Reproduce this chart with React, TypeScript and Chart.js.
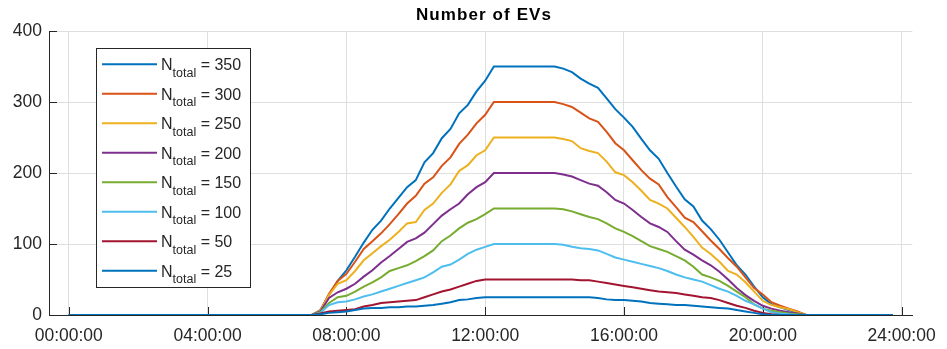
import React, { useEffect, useRef } from 'react';
import { Chart, registerables } from 'chart.js';

Chart.register(...registerables);

// Sampling: 15-minute steps from 00:00 to 23:45 (96 samples), values in EVs
const STEP_HOURS = 0.25;

const N350 = [
  0, 0, 0, 0, 0, 0, 0, 0, 0, 0, 0, 0, 0, 0, 0, 0, 0, 0, 0, 0, 0, 0, 0, 0, 0, 0, 0, 0,
  0, 7, 28, 48, 63, 82, 102, 120, 133, 150, 165, 180, 190, 215, 228, 249, 262, 284, 296, 315, 330, 350,
  350, 350, 350, 350, 350, 350, 350,
  347, 342, 333, 326, 320, 305, 290, 278, 265, 248, 232, 220, 200, 181, 163, 153, 133, 121, 106, 88, 70, 57, 40, 25, 15, 11, 7, 4, 0,
  0, 0, 0, 0, 0, 0, 0, 0, 0, 0,
];
const N300 = [
  0, 0, 0, 0, 0, 0, 0, 0, 0, 0, 0, 0, 0, 0, 0, 0, 0, 0, 0, 0, 0, 0, 0, 0, 0, 0, 0, 0,
  0, 6, 30, 48, 58, 75, 93, 104, 115, 128, 142, 157, 168, 185, 194, 210, 222, 241, 254, 270, 282, 300,
  300, 300, 300, 300, 300, 300, 300,
  297, 293, 285, 277, 272, 258, 242, 232, 218, 204, 192, 184, 166, 152, 137, 131, 118, 105, 93, 80, 68, 53, 38, 29, 18, 13, 9, 5, 0,
  0, 0, 0, 0, 0, 0, 0, 0, 0, 0,
];
const N250 = [
  0, 0, 0, 0, 0, 0, 0, 0, 0, 0, 0, 0, 0, 0, 0, 0, 0, 0, 0, 0, 0, 0, 0, 0, 0, 0, 0, 0,
  0, 6, 28, 44, 49, 62, 77, 87, 97, 106, 117, 129, 131, 148, 157, 172, 184, 203, 211, 225, 232, 250,
  250, 250, 250, 250, 250, 250, 250,
  248, 245, 235, 231, 228, 216, 201, 197, 187, 175, 162, 157, 150, 137, 124, 110, 95, 86, 75, 62, 57, 46, 33, 20, 14, 11, 8, 4, 0,
  0, 0, 0, 0, 0, 0, 0, 0, 0, 0,
];
const N200 = [
  0, 0, 0, 0, 0, 0, 0, 0, 0, 0, 0, 0, 0, 0, 0, 0, 0, 0, 0, 0, 0, 0, 0, 0, 0, 0, 0, 0,
  0, 5, 24, 32, 37, 44, 54, 63, 74, 83, 93, 103, 108, 116, 128, 140, 149, 157, 170, 180, 187, 200,
  200, 200, 200, 200, 200, 200, 200,
  198, 195, 190, 185, 182, 173, 162, 157, 148, 138, 129, 124, 117, 104, 92, 85, 77, 70, 61, 50, 38, 28, 20, 13, 9, 6, 4, 2, 0,
  0, 0, 0, 0, 0, 0, 0, 0, 0, 0,
];
const N150 = [
  0, 0, 0, 0, 0, 0, 0, 0, 0, 0, 0, 0, 0, 0, 0, 0, 0, 0, 0, 0, 0, 0, 0, 0, 0, 0, 0, 0,
  0, 4, 17, 25, 27, 33, 40, 46, 53, 62, 66, 70, 76, 83, 91, 104, 112, 122, 130, 135, 142, 150,
  150, 150, 150, 150, 150, 150, 150,
  149, 146, 142, 138, 135, 129, 122, 117, 111, 104, 97, 93, 89, 83, 77, 68, 57, 53, 48, 41, 33, 25, 15, 9, 6, 4, 2, 1, 0,
  0, 0, 0, 0, 0, 0, 0, 0, 0, 0,
];
const N100 = [
  0, 0, 0, 0, 0, 0, 0, 0, 0, 0, 0, 0, 0, 0, 0, 0, 0, 0, 0, 0, 0, 0, 0, 0, 0, 0, 0, 0,
  0, 3, 14, 18, 19, 22, 26, 29, 33, 37, 41, 45, 49, 53, 60, 68, 71, 78, 86, 92, 96, 100,
  100, 100, 100, 100, 100, 100, 100,
  99, 96, 94, 93, 91, 86, 81, 78, 75, 72, 69, 66, 62, 57, 53, 50, 47, 42, 37, 33, 27, 20, 15, 9, 4, 2, 1, 0, 0,
  0, 0, 0, 0, 0, 0, 0, 0, 0, 0,
];
const N50 = [
  0, 0, 0, 0, 0, 0, 0, 0, 0, 0, 0, 0, 0, 0, 0, 0, 0, 0, 0, 0, 0, 0, 0, 0, 0, 0, 0, 0,
  0, 2, 5, 6, 7, 8, 12, 14, 17, 18, 19, 20, 21, 25, 29, 33, 36, 40, 44, 48, 50, 50,
  50, 50, 50, 50, 50, 50, 50,
  50, 50, 49, 49, 47, 45, 43, 41, 39, 37, 35, 33, 32, 31, 29, 27, 25, 24, 21, 17, 13, 10, 6, 3, 1, 0, 0, 0, 0,
  0, 0, 0, 0, 0, 0, 0, 0, 0, 0,
];
const N25 = [
  0, 0, 0, 0, 0, 0, 0, 0, 0, 0, 0, 0, 0, 0, 0, 0, 0, 0, 0, 0, 0, 0, 0, 0, 0, 0, 0, 0,
  0, 1, 3, 4, 5, 7, 9, 10, 10, 11, 11, 12, 12, 13, 14, 16, 18, 21, 22, 24, 25, 25,
  25, 25, 25, 25, 25, 25, 25,
  25, 25, 25, 25, 24, 22, 21, 21, 20, 19, 17, 16, 15, 14, 14, 13, 12, 11, 10, 9, 7, 5, 3, 1, 0, 0, 0, 0, 0,
  0, 0, 0, 0, 0, 0, 0, 0, 0, 0,
];

const SERIES = [N350, N300, N250, N200, N150, N100, N50, N25];
const N_TOTALS = ['350', '300', '250', '200', '150', '100', '50', '25'];
const COLORS = ['#0072BD', '#D95319', '#EDB120', '#7E2F8E', '#77AC30', '#4DBEEE', '#A2142F', '#0072BD'];

const X_TICKS = [0, 4, 8, 12, 16, 20, 24];
const X_TICK_LABELS = ['00:00:00', '04:00:00', '08:00:00', '12:00:00', '16:00:00', '20:00:00', '24:00:00'];
const Y_TICKS = [0, 100, 200, 300, 400];
const TITLE = 'Number of EVs';

const FONT = '"Liberation Sans", Arial, Helvetica, sans-serif';
const AXIS_COLOR = '#262626';
const GRID_COLOR = '#dfdfdf';

const decorPlugin = {
  id: 'matlabDecor',
  beforeDatasetsDraw(chart: any) {
    const { ctx, chartArea } = chart;
    const xs = chart.scales.x;
    const ys = chart.scales.y;
    ctx.save();
    ctx.strokeStyle = AXIS_COLOR;
    ctx.lineWidth = 1;
    ctx.beginPath();
    X_TICKS.forEach((t) => {
      const px = Math.round(xs.getPixelForValue(t)) + 0.5;
      ctx.moveTo(px, chartArea.bottom);
      ctx.lineTo(px, chartArea.bottom - 8);
    });
    Y_TICKS.forEach((t) => {
      const py = Math.round(ys.getPixelForValue(t)) + 0.5;
      ctx.moveTo(chartArea.left, py);
      ctx.lineTo(chartArea.left + 8, py);
    });
    ctx.stroke();
    ctx.restore();
  },
  afterDraw(chart: any) {
    const { ctx } = chart;
    ctx.save();
    // Title
    ctx.fillStyle = '#000';
    ctx.font = `bold 17px ${FONT}`;
    ctx.textAlign = 'center';
    ctx.textBaseline = 'alphabetic';
    try { (ctx as any).letterSpacing = '1.1px'; } catch (e) { /* ignore */ }
    ctx.fillText(TITLE, 484, 20);
    try { (ctx as any).letterSpacing = '0px'; } catch (e) { /* ignore */ }

    // Legend
    const bx = 96.5, by = 48.5, bw = 154, bh = 239;
    ctx.fillStyle = '#ffffff';
    ctx.fillRect(bx, by, bw, bh);
    ctx.strokeStyle = AXIS_COLOR;
    ctx.lineWidth = 1;
    ctx.strokeRect(bx, by, bw, bh);
    ctx.textAlign = 'left';
    N_TOTALS.forEach((n, i) => {
      const yl = 64.3 + i * 29.5;
      ctx.strokeStyle = COLORS[i];
      ctx.lineWidth = 2;
      ctx.beginPath();
      ctx.moveTo(102, yl);
      ctx.lineTo(157, yl);
      ctx.stroke();
      ctx.fillStyle = AXIS_COLOR;
      let x = 161;
      ctx.font = `16px ${FONT}`;
      ctx.fillText('N', x, yl + 5.8);
      x += ctx.measureText('N').width;
      ctx.font = `12.5px ${FONT}`;
      ctx.fillText('total', x, yl + 12.4);
      x += ctx.measureText('total').width;
      ctx.font = `16px ${FONT}`;
      ctx.fillText(' = ' + n, x, yl + 5.8);
    });
    ctx.restore();
  },
};

export default function App() {
  const canvasRef = useRef<HTMLCanvasElement | null>(null);

  useEffect(() => {
    if (!canvasRef.current) return;
    const datasets = SERIES.map((s, i) => ({
      label: 'N_total = ' + N_TOTALS[i],
      data: s.map((v, k) => ({ x: k * STEP_HOURS, y: v })),
      borderColor: COLORS[i],
      backgroundColor: COLORS[i],
      borderWidth: 2,
      pointRadius: 0,
      tension: 0,
      fill: false,
      order: SERIES.length - 1 - i,
    }));
    const chart = new Chart(canvasRef.current, {
      type: 'line',
      data: { datasets },
      plugins: [decorPlugin],
      options: {
        animation: false,
        responsive: false,
        devicePixelRatio: 1,
        layout: { padding: { left: 0, top: 31, right: 27, bottom: 0 } },
        plugins: {
          legend: { display: false },
          title: { display: false },
          tooltip: { enabled: false },
        },
        scales: {
          x: {
            type: 'linear',
            min: -0.57,
            max: 24.31,
            afterFit: (s: any) => { s.height = 34; },
            afterBuildTicks: (s: any) => { s.ticks = X_TICKS.map((v) => ({ value: v })); },
            grid: { color: GRID_COLOR, drawTicks: false },
            border: { display: true, color: AXIS_COLOR, width: 1 },
            ticks: {
              padding: 11,
              color: AXIS_COLOR,
              font: { family: FONT, size: 17.5 },
              maxRotation: 0,
              autoSkip: false,
              callback: (v: any) => {
                const idx = X_TICKS.indexOf(Number(v));
                return idx >= 0 ? X_TICK_LABELS[idx] : '';
              },
            },
          },
          y: {
            type: 'linear',
            min: 0,
            max: 400,
            afterFit: (s: any) => { s.width = 49; },
            afterBuildTicks: (s: any) => { s.ticks = Y_TICKS.map((v) => ({ value: v })); },
            grid: { color: GRID_COLOR, drawTicks: false },
            border: { display: true, color: AXIS_COLOR, width: 1 },
            ticks: {
              padding: 7,
              color: AXIS_COLOR,
              font: { family: FONT, size: 17.5 },
              autoSkip: false,
            },
          },
        },
      },
    });
    return () => chart.destroy();
  }, []);

  return (
    <div style={{ position: 'fixed', left: 0, top: 0, width: 947, height: 349, background: '#fff' }}>
      <canvas ref={canvasRef} width={947} height={349} style={{ display: 'block' }} />
    </div>
  );
}
